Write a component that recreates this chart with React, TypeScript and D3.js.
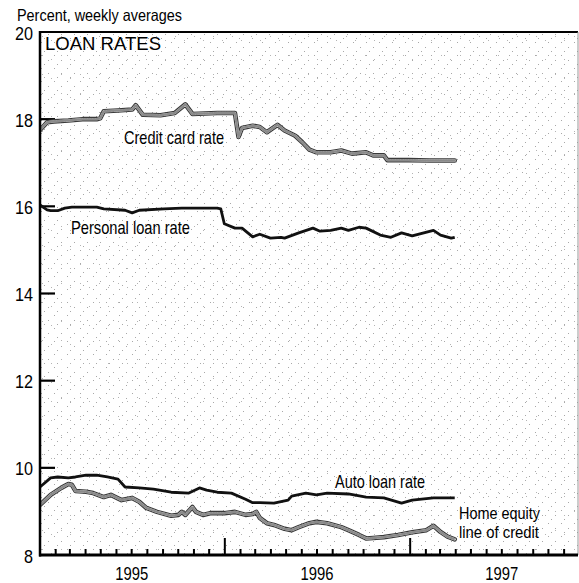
import React from 'react';
import * as d3 from 'd3';

// ---- data (weeks since first week of 1995, percent) ----
const yTickValues = [8, 10, 12, 14, 16, 18, 20];
const yearLabels = [1995, 1996, 1997];

const creditCardWeeks = [0, 2, 4, 8, 12, 16, 17, 18, 22, 26, 27, 29, 34, 38, 41, 43, 50, 55, 56, 57, 60, 62, 64, 67, 69, 72, 74, 76, 78, 82, 85, 88, 92, 94, 97, 98, 104, 110, 117];
const creditCardRates = [17.75, 17.93, 17.95, 17.97, 18.0, 18.0, 18.02, 18.18, 18.2, 18.22, 18.32, 18.1, 18.09, 18.14, 18.34, 18.12, 18.14, 18.14, 17.59, 17.8, 17.85, 17.82, 17.7, 17.87, 17.74, 17.62, 17.47, 17.3, 17.24, 17.24, 17.28, 17.21, 17.24, 17.17, 17.17, 17.06, 17.06, 17.05, 17.05];

const personalWeeks = [0, 2, 3, 5, 7, 9, 16, 18, 24, 26, 28, 35, 40, 50, 51, 52, 55, 57, 60, 62, 65, 68, 69, 73, 77, 79, 82, 85, 87, 90, 92, 96, 99, 102, 105, 111, 113, 116, 117];
const personalRates = [16.03, 15.92, 15.9, 15.9, 15.96, 15.98, 15.98, 15.94, 15.91, 15.85, 15.91, 15.94, 15.96, 15.96, 15.94, 15.6, 15.5, 15.5, 15.3, 15.36, 15.27, 15.29, 15.27, 15.39, 15.5, 15.43, 15.45, 15.5, 15.45, 15.52, 15.5, 15.34, 15.29, 15.39, 15.32, 15.45, 15.34, 15.27, 15.29];

const autoWeeks = [0, 3, 5, 8, 10, 13, 16, 19, 22, 24, 28, 32, 37, 42, 45, 47, 50, 54, 58, 60, 62, 66, 70, 71, 75, 78, 81, 87, 92, 97, 102, 105, 111, 117];
const autoRates = [9.56, 9.77, 9.79, 9.77, 9.79, 9.83, 9.83, 9.79, 9.74, 9.56, 9.54, 9.51, 9.44, 9.42, 9.54, 9.49, 9.44, 9.42, 9.28, 9.2, 9.2, 9.19, 9.26, 9.35, 9.42, 9.38, 9.42, 9.4, 9.33, 9.31, 9.19, 9.26, 9.31, 9.31];

const homeEquityWeeks = [0, 3, 6, 8, 9, 10, 13, 15, 18, 20, 23, 26, 28, 30, 33, 37, 39, 40, 41, 43, 44, 46, 48, 52, 55, 58, 60, 61, 62, 64, 66, 69, 71, 73, 76, 78, 81, 85, 87, 90, 92, 94, 97, 101, 105, 109, 111, 113, 115, 117];
const homeEquityRates = [9.15, 9.38, 9.54, 9.63, 9.61, 9.47, 9.45, 9.42, 9.33, 9.38, 9.26, 9.31, 9.22, 9.08, 8.99, 8.9, 8.92, 8.99, 8.92, 9.1, 8.99, 8.92, 8.96, 8.96, 8.99, 8.92, 8.94, 8.99, 8.85, 8.73, 8.69, 8.6, 8.57, 8.64, 8.73, 8.76, 8.73, 8.64, 8.57, 8.46, 8.38, 8.39, 8.41, 8.46, 8.52, 8.57, 8.67, 8.53, 8.42, 8.36];

// stipple texture dot positions (decorative)
const dotsA = [[2, 3], [9, 8], [5, 12]];
const dotsB = [[13, 2], [4, 17]];

const FONT = "'Liberation Sans', Arial, Helvetica, sans-serif";

export default function App() {
  const L = 40, R = 578, T = 32, B = 555;
  const x = d3.scaleTime().domain([new Date(1995, 0, 1), new Date(1998, 0, 1)]).range([L, 595]);
  const y = d3.scaleLinear().domain([8, 20]).range([B, T]);
  const weekDate = (w: number) => new Date(1995, 0, 1 + 7 * w);
  const lineGen = d3.line<[number, number]>().x(d => x(weekDate(d[0]))).y(d => y(d[1]));
  const mk = (weeks: number[], rates: number[]) => lineGen(weeks.map((w, i) => [w, rates[i]] as [number, number])) || '';

  const ccPath = mk(creditCardWeeks, creditCardRates);
  const plPath = mk(personalWeeks, personalRates);
  const alPath = mk(autoWeeks, autoRates);
  const hePath = mk(homeEquityWeeks, homeEquityRates);

  const months = d3.timeMonth.range(new Date(1995, 1, 1), new Date(1998, 0, 1)).filter(d => x(d) < R);

  const grayLine = (p: string) => (
    <g fill="none" strokeLinejoin="round" strokeLinecap="round">
      <path d={p} stroke="#3a3a3a" strokeWidth={4.6} />
      <path d={p} stroke="#dcdcdc" strokeWidth={2.4} />
      <path d={p} stroke="#8a8a8a" strokeWidth={2.4} strokeDasharray="1 1.6" />
    </g>
  );

  const label = (txt: string, px: number, py: number, len: number, size = 19) => (
    <text x={px} y={py} fontFamily={FONT} fontSize={size} textLength={len} lengthAdjust="spacingAndGlyphs">{txt}</text>
  );

  return (
    <svg width={579} height={583} style={{ position: 'absolute', left: 0, top: 0, background: '#fff' }}>
      <defs>
        <pattern id="stA" width={13} height={13} patternUnits="userSpaceOnUse">
          {dotsA.map((d, i) => <rect key={i} x={d[0]} y={d[1]} width={1} height={1} fill="#a8a8a8" />)}
        </pattern>
        <pattern id="stB" width={19} height={19} patternUnits="userSpaceOnUse">
          {dotsB.map((d, i) => <rect key={i} x={d[0]} y={d[1]} width={1} height={1} fill="#b4b4b4" />)}
        </pattern>
        <clipPath id="plotClip"><rect x={L} y={T} width={R - L} height={B - T} /></clipPath>
      </defs>

      <rect x={L} y={T} width={R - L} height={B - T} fill="url(#stA)" />
      <rect x={L} y={T} width={R - L} height={B - T} fill="url(#stB)" />

      {label('Percent, weekly averages', 17, 21, 165, 16.5)}

      {/* y ticks inward */}
      {yTickValues.filter(v => v > 8 && v < 20).map(v => (
        <line key={v} x1={L} x2={L + 15} y1={y(v)} y2={y(v)} stroke="#000" strokeWidth={2.2} />
      ))}
      {yTickValues.map(v => (
        <text key={v} x={33} y={y(v) + 7.5} textAnchor="end" fontFamily={FONT} fontSize={18.5}
          textLength={String(v).length * 9} lengthAdjust="spacingAndGlyphs">{v}</text>
      ))}

      {/* month ticks */}
      {months.map((d, i) => (
        <line key={i} x1={x(d)} x2={x(d)} y1={B} y2={d.getMonth() === 0 ? B - 17 : B - 6} stroke="#000" strokeWidth={2} />
      ))}
      {yearLabels.map(yr => (
        <text key={yr} x={x(new Date(yr, 6, 1))} y={580} textAnchor="middle" fontFamily={FONT} fontSize={18.5}
          textLength={33} lengthAdjust="spacingAndGlyphs">{yr}</text>
      ))}

      <g clipPath="url(#plotClip)">
        {grayLine(ccPath)}
        {grayLine(hePath)}
        <path d={plPath} fill="none" stroke="#111" strokeWidth={2.8} strokeLinejoin="round" />
        <path d={alPath} fill="none" stroke="#111" strokeWidth={2.8} strokeLinejoin="round" />
      </g>

      {/* frame */}
      <line x1={L} x2={R} y1={T} y2={T} stroke="#000" strokeWidth={2} />
      <line x1={R} x2={R} y1={T} y2={B} stroke="#999" strokeWidth={1} />
      <line x1={L} x2={L} y1={T - 1} y2={B + 1.5} stroke="#000" strokeWidth={2.5} />
      <line x1={L - 1} x2={R} y1={B} y2={B} stroke="#000" strokeWidth={3} />

      {label('LOAN RATES', 45, 50, 116, 18)}
      {label('Credit card rate', 124, 144, 100)}
      {label('Personal loan rate', 71, 234, 119)}
      {label('Auto loan rate', 335, 488, 90)}
      {label('Home equity', 459, 519, 81, 17)}
      {label('line of credit', 459, 538, 80, 17)}
    </svg>
  );
}
